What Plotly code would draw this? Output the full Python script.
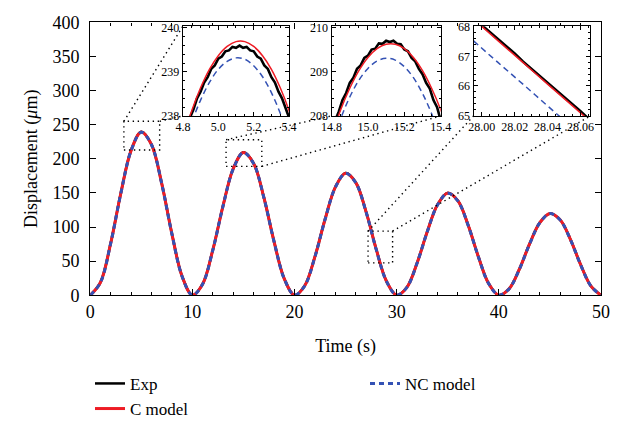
import plotly.graph_objects as go

# ---------------- main record, 0-50 s sampled every second ----------------
time_s = list(range(0, 51))

exp_disp = [0.0,
            18.8, 75.8, 149.7, 212.2, 239.6, 221.1, 164.1, 90.2, 27.7, 0.2,
            16.4, 66.3, 130.9, 185.6, 209.6, 193.4, 143.5, 78.9, 24.2, 0.2,
            14.1, 56.7, 111.9, 158.7, 179.1, 165.3, 122.7, 67.5, 20.7, 0.2,
            11.8, 47.5, 93.7, 132.9, 150.0, 138.4, 102.7, 56.5, 17.4, 0.2,
            9.5, 38.0, 75.0, 106.3, 120.0, 110.7, 82.2, 45.2, 13.9, 0.0]

c_model_disp = [0.0,
                18.7, 75.7, 149.6, 212.1, 239.5, 221.0, 164.0, 90.1, 27.6, 0.2,
                16.3, 66.2, 130.8, 185.5, 209.4, 193.3, 143.4, 78.8, 24.1, 0.2,
                14.0, 56.6, 111.8, 158.6, 179.0, 165.2, 122.6, 67.4, 20.6, 0.2,
                11.7, 47.4, 93.6, 132.8, 149.9, 138.3, 102.6, 56.4, 17.3, 0.2,
                9.4, 37.9, 74.9, 106.2, 119.9, 110.6, 82.1, 45.1, 13.8, 0.0]

nc_model_disp = [0.0,
                 18.6, 75.5, 149.4, 211.8, 239.1, 220.6, 163.7, 89.9, 27.5, 0.2,
                 16.2, 66.0, 130.6, 185.2, 209.1, 193.0, 143.2, 78.6, 24.0, 0.2,
                 13.9, 56.4, 111.6, 158.3, 178.7, 164.9, 122.3, 66.9, 20.5, 0.2,
                 11.6, 47.2, 93.4, 132.5, 149.6, 138.0, 102.4, 56.2, 17.2, 0.2,
                 9.3, 37.8, 74.7, 106.0, 119.7, 110.4, 81.9, 44.9, 13.7, 0.0]

# ---------------- zoom 1: first peak ----------------
z1_exp_t = [4.80, 4.82, 4.84, 4.86, 4.88, 4.90, 4.92, 4.94, 4.96, 4.98, 5.00,
            5.02, 5.04, 5.06, 5.08, 5.10, 5.12, 5.14, 5.16, 5.18, 5.20, 5.22,
            5.24, 5.26, 5.28, 5.30, 5.32, 5.34, 5.36, 5.38, 5.40]
z1_exp_v = [237.46, 237.68, 237.96, 238.15, 238.40, 238.55, 238.76, 238.88, 239.07, 239.15, 239.30,
            239.35, 239.47, 239.49, 239.57, 239.55, 239.60, 239.55, 239.57, 239.49, 239.47, 239.35,
            239.30, 239.15, 239.07, 238.88, 238.76, 238.55, 238.40, 238.15, 237.96]
z1_c_t = [4.80, 4.85, 4.90, 4.95, 5.00, 5.05, 5.10, 5.15, 5.20, 5.25, 5.30, 5.35, 5.40, 5.45]
z1_c_v = [237.49, 238.12, 238.64, 239.06, 239.37, 239.58, 239.69, 239.69, 239.58, 239.37, 239.06, 238.64, 238.12, 237.49]
z1_nc_t = [4.80, 4.85, 4.90, 4.95, 5.00, 5.05, 5.10, 5.15, 5.20, 5.25, 5.30, 5.35, 5.40]
z1_nc_v = [237.22, 237.85, 238.36, 238.76, 239.06, 239.24, 239.32, 239.29, 239.14, 238.89, 238.53, 238.06, 237.49]

# ---------------- zoom 2: second peak ----------------
z2_exp_t = [14.80, 14.82, 14.84, 14.86, 14.88, 14.90, 14.92, 14.94, 14.96, 14.98, 15.00,
            15.02, 15.04, 15.06, 15.08, 15.10, 15.12, 15.14, 15.16, 15.18, 15.20, 15.22,
            15.24, 15.26, 15.28, 15.30, 15.32, 15.34, 15.36, 15.38, 15.40, 15.42]
z2_exp_v = [207.63, 207.90, 208.10, 208.36, 208.52, 208.75, 208.87, 209.07, 209.15, 209.32, 209.37,
            209.51, 209.53, 209.65, 209.64, 209.71, 209.68, 209.71, 209.64, 209.63, 209.51, 209.47,
            209.32, 209.24, 209.07, 208.95, 208.75, 208.62, 208.36, 208.20, 207.90, 207.72]
z2_c_t = [14.80, 14.85, 14.90, 14.95, 15.00, 15.05, 15.10, 15.15, 15.20, 15.25, 15.30, 15.35, 15.40, 15.45]
z2_c_v = [207.53, 208.14, 208.63, 209.03, 209.33, 209.53, 209.63, 209.63, 209.53, 209.33, 209.03, 208.63, 208.14, 207.53]
z2_nc_t = [14.80, 14.85, 14.90, 14.95, 15.00, 15.05, 15.10, 15.15, 15.20, 15.25, 15.30, 15.35, 15.40]
z2_nc_v = [207.36, 207.94, 208.43, 208.81, 209.08, 209.25, 209.31, 209.27, 209.12, 208.87, 208.51, 208.05, 207.48]

# ---------------- zoom 3: descending flank near 28 s ----------------
z3_exp_t = [27.995, 28.000, 28.005, 28.010, 28.015, 28.020, 28.025, 28.030,
            28.035, 28.040, 28.045, 28.050, 28.055, 28.060, 28.065, 28.070]
z3_exp_v = [68.31, 68.07, 67.83, 67.57, 67.36, 67.10, 66.83, 66.59,
            66.36, 66.12, 65.86, 65.62, 65.37, 65.14, 64.88, 64.64]
z3_c_t = [27.995, 28.010, 28.025, 28.040, 28.055, 28.070]
z3_c_v = [68.27, 67.53, 66.80, 66.06, 65.33, 64.59]
z3_nc_t = [27.995, 28.010, 28.025, 28.040, 28.055, 28.070]
z3_nc_v = [67.53, 66.79, 66.06, 65.32, 64.59, 63.85]

# zoom windows marked on the main record: (t0, t1, v0, v1)
zoom_boxes = [(3.3, 6.8, 213.0, 255.0),
              (13.3, 16.8, 189.0, 228.0),
              (27.2, 29.6, 47.5, 94.0)]

# ---------------- styling ----------------
FONT = "Liberation Serif"
BLACK = "#000000"
RED = "#ee1c25"
BLUE = "#3452b4"
W, H = 640, 436

X_RANGE = [0, 50]
Y_RANGE = [0, 400]
X_DOM = [82 / W, 611 / W]
Y_DOM = [1 - 299 / H, 1 - 13 / H]

INSET_Y_DOM = [1 - 111 / H, 1 - 17 / H]
INSET_X_DOMS = [[178 / W, 288 / W], [332 / W, 445 / W], [479 / W, 600 / W]]


def to_paper(t, v):
    px = X_DOM[0] + (t - X_RANGE[0]) / (X_RANGE[1] - X_RANGE[0]) * (X_DOM[1] - X_DOM[0])
    py = Y_DOM[0] + (v - Y_RANGE[0]) / (Y_RANGE[1] - Y_RANGE[0]) * (Y_DOM[1] - Y_DOM[0])
    return px, py


fig = go.Figure()

# main record
fig.add_trace(go.Scatter(x=time_s, y=exp_disp, mode="lines", name="Exp",
                         line=dict(color=BLACK, width=2.5, shape="spline"),
                         xaxis="x", yaxis="y", legendrank=1))
fig.add_trace(go.Scatter(x=time_s, y=c_model_disp, mode="lines", name="C model",
                         line=dict(color=RED, width=3, shape="spline"),
                         xaxis="x", yaxis="y", legendrank=3))
fig.add_trace(go.Scatter(x=time_s, y=nc_model_disp, mode="lines", name="NC model",
                         line=dict(color=BLUE, width=3, shape="spline", dash="5px,4px"),
                         xaxis="x", yaxis="y", legendrank=2))

# zoomed views
zooms = [(z1_exp_t, z1_exp_v, z1_c_t, z1_c_v, z1_nc_t, z1_nc_v),
         (z2_exp_t, z2_exp_v, z2_c_t, z2_c_v, z2_nc_t, z2_nc_v),
         (z3_exp_t, z3_exp_v, z3_c_t, z3_c_v, z3_nc_t, z3_nc_v)]
for i, (et, ev, ct, cv, nt, nv) in enumerate(zooms):
    xa, ya = "x%d" % (i + 2), "y%d" % (i + 2)
    fig.add_trace(go.Scatter(x=et, y=ev, mode="lines", showlegend=False,
                             line=dict(color=BLACK, width=2.6), xaxis=xa, yaxis=ya))
    fig.add_trace(go.Scatter(x=ct, y=cv, mode="lines", showlegend=False,
                             line=dict(color=RED, width=1.5, shape="spline"), xaxis=xa, yaxis=ya))
    fig.add_trace(go.Scatter(x=nt, y=nv, mode="lines", showlegend=False,
                             line=dict(color=BLUE, width=1.5, shape="spline", dash="6px,4px"),
                             xaxis=xa, yaxis=ya))

frame = dict(showline=True, linecolor=BLACK, linewidth=1.3, mirror="ticks",
             ticks="inside", tickcolor=BLACK, showgrid=False, zeroline=False)

layout = dict(
    width=W, height=H,
    margin=dict(l=0, r=0, t=0, b=0),
    paper_bgcolor="white", plot_bgcolor="white",
    font=dict(family=FONT, color=BLACK),
    xaxis=dict(domain=X_DOM, range=X_RANGE, dtick=10, ticklen=6, tickwidth=1,
               minor=dict(dtick=2, ticks="inside", ticklen=3, tickcolor=BLACK),
               tickfont=dict(size=18),
               title=dict(text="Time (s)", font=dict(size=18), standoff=18),
               anchor="y", **frame),
    yaxis=dict(domain=Y_DOM, range=Y_RANGE, dtick=50, ticklen=6, tickwidth=1,
               tickfont=dict(size=18), ticklabelstandoff=6,
               title=dict(text="Displacement (<i>μ</i>m)", font=dict(size=18), standoff=10),
               anchor="x", **frame),
    legend=dict(orientation="h", x=82 / W, xanchor="left", y=1 - 373 / H, yanchor="top",
                entrywidth=230, entrywidthmode="pixels", font=dict(size=17),
                bgcolor="rgba(0,0,0,0)", tracegroupgap=0, itemwidth=30,
                traceorder="normal"),
    showlegend=True,
)

inset_x = [dict(range=[4.8, 5.4], dtick=0.2, tick0=4.8, tickformat=".1f", minor_dtick=0.05),
           dict(range=[14.8, 15.4], dtick=0.2, tick0=14.8, tickformat=".1f", minor_dtick=0.05),
           dict(range=[27.995, 28.066], dtick=0.02, tick0=28.0, tickformat=".2f", minor_dtick=0.005)]
inset_y = [dict(range=[238.0, 240.04], dtick=1, tick0=238, minor_dtick=0.2),
           dict(range=[208.0, 210.04], dtick=1, tick0=208, minor_dtick=0.2),
           dict(range=[64.98, 68.03], dtick=1, tick0=65, minor_dtick=0.2)]

for i in range(3):
    n = i + 2
    ix, iy = inset_x[i], inset_y[i]
    layout["xaxis%d" % n] = dict(domain=INSET_X_DOMS[i], range=ix["range"], dtick=ix["dtick"],
                                 tick0=ix["tick0"], tickformat=ix["tickformat"],
                                 ticklen=4, tickwidth=1, tickfont=dict(size=12),
                                 minor=dict(dtick=ix["minor_dtick"], ticks="inside",
                                            ticklen=2, tickcolor=BLACK),
                                 anchor="y%d" % n, **frame)
    layout["yaxis%d" % n] = dict(domain=INSET_Y_DOM, range=iy["range"], dtick=iy["dtick"],
                                 tick0=iy["tick0"], ticklen=4, tickwidth=1,
                                 tickfont=dict(size=12),
                                 minor=dict(dtick=iy["minor_dtick"], ticks="inside",
                                            ticklen=2, tickcolor=BLACK),
                                 anchor="x%d" % n, **frame)

fig.update_layout(**layout)

# dotted zoom boxes and connectors
dot = dict(color=BLACK, width=1.4, dash="1.4px,3.6px")
shapes = []
for (t0, t1, v0, v1), xd in zip(zoom_boxes, INSET_X_DOMS):
    shapes.append(dict(type="rect", xref="x", yref="y", x0=t0, x1=t1, y0=v0, y1=v1,
                       line=dot, fillcolor="rgba(0,0,0,0)", layer="above"))

# inset panels drawn with a white background over the record
for xd in INSET_X_DOMS:
    shapes.append(dict(type="rect", xref="paper", yref="paper", x0=xd[0], x1=xd[1],
                       y0=INSET_Y_DOM[0], y1=INSET_Y_DOM[1], line=dict(width=0),
                       fillcolor="white", layer="below"))

links = [((zoom_boxes[0][0], zoom_boxes[0][3]), (INSET_X_DOMS[0][0], INSET_Y_DOM[1])),
         ((zoom_boxes[0][1], zoom_boxes[0][3]), (INSET_X_DOMS[0][0], INSET_Y_DOM[0])),
         ((zoom_boxes[1][0], zoom_boxes[1][3]), (INSET_X_DOMS[1][0], INSET_Y_DOM[0])),
         ((zoom_boxes[1][1], zoom_boxes[1][2]), (INSET_X_DOMS[1][1], INSET_Y_DOM[0])),
         ((zoom_boxes[2][0], zoom_boxes[2][3]), (INSET_X_DOMS[2][0], INSET_Y_DOM[0])),
         ((zoom_boxes[2][1], zoom_boxes[2][3]), (INSET_X_DOMS[2][1], INSET_Y_DOM[0]))]
for (t, v), (qx, qy) in links:
    px, py = to_paper(t, v)
    shapes.append(dict(type="line", xref="paper", yref="paper", x0=px, y0=py, x1=qx, y1=qy,
                       line=dot, layer="above"))

fig.update_layout(shapes=shapes)

fig.write_html("out.html")
